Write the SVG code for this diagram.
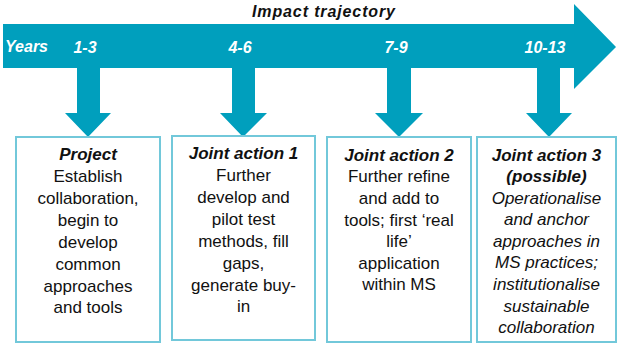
<svg xmlns="http://www.w3.org/2000/svg" width="617" height="343" viewBox="0 0 617 343">
<style>
.arrow{fill:#009fbd}
.box{fill:#ffffff;stroke:#72c8da;stroke-width:2}
.yr{font-family:"Liberation Sans",Arial,sans-serif;font-size:16px;font-weight:bold;font-style:italic;fill:#ffffff;text-anchor:middle}
.t{font-family:"Liberation Sans",Arial,sans-serif;font-size:17px;fill:#111111;text-anchor:middle}
.h{font-weight:bold;font-style:italic}
.i{font-style:italic}
</style>
<rect width="617" height="343" fill="#ffffff"/>
<g id="timeline">
<polygon class="arrow" points="3,24 574,24 574,4 616,47 574,89 574,68 3,68"/>
<text x="252" y="17" font-family="Liberation Sans, Arial, sans-serif" font-size="16" font-weight="bold" font-style="italic" fill="#111111" textLength="143">Impact trajectory</text>
<text x="5" y="52" class="yr" style="text-anchor:start">Years</text>
<text x="85" y="53" class="yr">1-3</text>
<text x="240" y="53" class="yr">4-6</text>
<text x="396" y="53" class="yr">7-9</text>
<text x="545" y="53" class="yr">10-13</text>
</g>
<g id="connectors">
<polygon class="arrow" points="77,68 100,68 100,113 111,113 88,137 65,113 77,113"/>
<polygon class="arrow" points="232,68 255,68 255,113 267,113 243,137 220,113 232,113"/>
<polygon class="arrow" points="387,68 411,68 411,113 423,113 399,137 375,113 387,113"/>
<polygon class="arrow" points="537,68 560,68 560,113 572,113 549,137 526,113 537,113"/>
</g>
<g id="box1">
<rect class="box" x="16" y="137" width="144" height="205"/>
<text class="t"><tspan class="h" x="88" y="160">Project</tspan><tspan x="88" y="182">Establish</tspan><tspan x="88" y="204">collaboration,</tspan><tspan x="88" y="226">begin to</tspan><tspan x="88" y="248">develop</tspan><tspan x="88" y="270">common</tspan><tspan x="88" y="292">approaches</tspan><tspan x="88" y="313">and tools</tspan></text>
</g>
<g id="box2">
<rect class="box" x="172" y="136" width="143" height="204"/>
<text class="t"><tspan class="h" x="243.5" y="159">Joint action 1</tspan><tspan x="243.5" y="181">Further</tspan><tspan x="243.5" y="203">develop and</tspan><tspan x="243.5" y="225">pilot test</tspan><tspan x="243.5" y="247">methods, fill</tspan><tspan x="243.5" y="269">gaps,</tspan><tspan x="243.5" y="291">generate buy-</tspan><tspan x="243.5" y="312">in</tspan></text>
</g>
<g id="box3">
<rect class="box" x="327" y="137" width="144" height="205"/>
<text class="t"><tspan class="h" x="399" y="161">Joint action 2</tspan><tspan x="399" y="182">Further refine</tspan><tspan x="399" y="204">and add to</tspan><tspan x="399" y="226">tools; first ‘real</tspan><tspan x="399" y="247">life’</tspan><tspan x="399" y="269">application</tspan><tspan x="399" y="290">within MS</tspan></text>
</g>
<g id="box4">
<rect class="box" x="477" y="137" width="139" height="205"/>
<text class="t"><tspan class="h" x="546.5" y="161">Joint action 3</tspan><tspan class="h" x="546.5" y="182">(possible)</tspan><tspan class="i" x="546.5" y="204">Operationalise</tspan><tspan class="i" x="546.5" y="225">and anchor</tspan><tspan class="i" x="546.5" y="247">approaches in</tspan><tspan class="i" x="546.5" y="268">MS practices;</tspan><tspan class="i" x="546.5" y="290">institutionalise</tspan><tspan class="i" x="546.5" y="312">sustainable</tspan><tspan class="i" x="546.5" y="333">collaboration</tspan></text>
</g>
</svg>
